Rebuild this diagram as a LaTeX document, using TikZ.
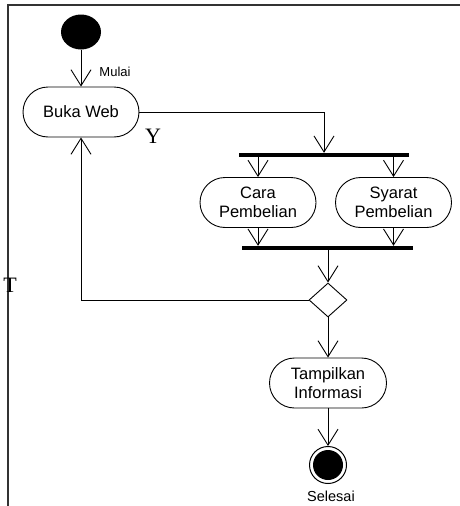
\documentclass[tikz,border=0pt]{standalone}
\usepackage{fontspec}
\setmainfont{Liberation Sans}
\newfontfamily\serifff{Liberation Serif}
\usetikzlibrary{arrows.meta,shapes.misc,shapes.geometric}
\begin{document}
\begin{tikzpicture}[x=1pt,y=-1pt,
  arr/.style={draw=black,line width=0.9pt,-{Straight Barb[length=16pt,width=20pt]}},
  act/.style={rounded rectangle,draw=black,line width=0.9pt,minimum width=116pt,minimum height=50pt,inner sep=0pt,align=center,font=\fontsize{16.5}{18.5}\selectfont},
  bar/.style={rectangle,fill=black,inner sep=0pt,minimum height=4pt},
  lbl/.style={inner sep=0pt,font=\fontsize{13}{15}\selectfont},
  big/.style={inner sep=0pt,font=\serifff\fontsize{22}{24}\selectfont}]
\useasboundingbox (0,0) rectangle (460,506);
\fill[white] (0,0) rectangle (460,506);
\draw[line width=2pt,black!80] (8,506) -- (8,4.5) -- (460,4.5);

\node[ellipse,fill=black,minimum width=40pt,minimum height=35pt,inner sep=0pt] (start) at (81,32) {};
\node[act] (buka) at (81,112) {Buka Web};
\node[bar,minimum width=170pt] (fork) at (324,155) {};
\node[act] (cara) at (258,202.5) {Cara\\Pembelian};
\node[act] (syarat) at (393.5,202.5) {Syarat\\Pembelian};
\node[bar,minimum width=171pt] (join) at (327.5,248) {};
\node[diamond,draw=black,line width=0.9pt,minimum width=38pt,minimum height=34pt,inner sep=0pt] (dec) at (328,300) {};
\node[act,minimum width=117pt] (tampil) at (328,383) {Tampilkan\\Informasi};
\node[circle,draw=black,line width=1pt,minimum size=37pt,inner sep=0pt] (end) at (328,465) {};
\node[circle,fill=black,minimum size=30pt,inner sep=0pt] (endin) at (end.center) {};

\node[lbl] (mulai) at (115,72) {Mulai};
\node[lbl,font=\fontsize{14.5}{16}\selectfont] (selesai) at (331,496) {Selesai};
\node[big] (y) at (153,136) {Y};
\node[big] (t) at (10,285) {T};

\draw[arr] (start) -- (buka);
\draw[arr] (buka.east) -| (fork.north);
\draw[arr] (cara.north |- fork.south) -- (cara.north);
\draw[arr] (syarat.north |- fork.south) -- (syarat.north);
\draw[arr] (cara.south) -- (cara.south |- join.north);
\draw[arr] (syarat.south) -- (syarat.south |- join.north);
\draw[arr] (dec.north |- join.south) -- (dec.north);
\draw[arr] (dec.west) -| (buka.south);
\draw[arr] (dec.south) -- (tampil.north);
\draw[arr] (tampil.south) -- (end.north);
\end{tikzpicture}
\end{document}
